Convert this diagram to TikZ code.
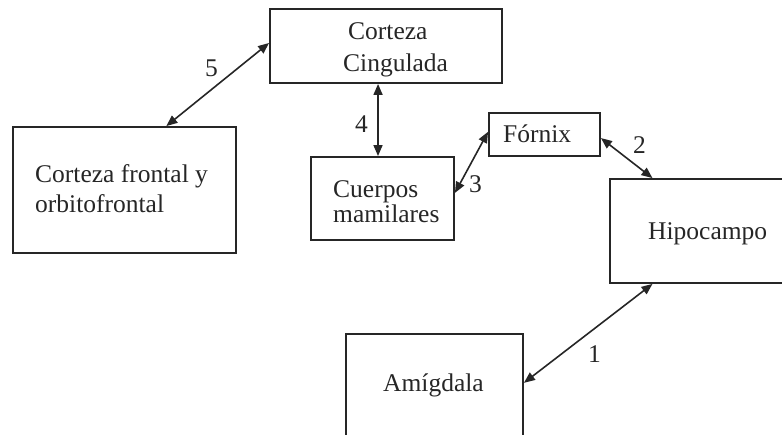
\documentclass[tikz,border=0pt]{standalone}
\usepackage{fontspec}
\setmainfont{Liberation Serif}
\usetikzlibrary{arrows.meta,calc}
\begin{document}
\begin{tikzpicture}[x=1pt,y=-1pt,
  box/.style={draw=black!85, line width=1.9pt, inner sep=0pt},
  txt/.style={anchor=base west, inner sep=0pt, text=black!85, font=\fontsize{25.5}{30}\selectfont},
  conn/.style={{Triangle[length=11pt,width=9pt]}-{Triangle[length=11pt,width=9pt]}, line width=1.6pt, draw=black!85}]
\useasboundingbox (0,0) rectangle (782,434);
\clip (0,0) rectangle (782,434);
% boxes
\node[box, minimum width=232pt, minimum height=74pt]  (cing)  at (386,46) {};
\node[box, minimum width=223pt, minimum height=126pt] (front) at (124.5,190) {};
\node[box, minimum width=143pt, minimum height=83pt]  (cuer)  at (382.5,198.5) {};
\node[box, minimum width=111pt, minimum height=43pt]  (forn)  at (544.5,134.5) {};
\node[box, minimum width=200pt, minimum height=104pt] (hipo)  at (710,231) {};
\node[box, minimum width=177pt, minimum height=111pt] (amig)  at (434.5,389.5) {};
% texts
\node[txt] (t1) at (348,39) {Corteza};
\node[txt] (t2) at (343,71) {Cingulada};
\node[txt] (t3) at (35,182) {Corteza frontal y};
\node[txt] (t4) at (35,212) {orbitofrontal};
\node[txt] (t5) at (333,197) {Cuerpos};
\node[txt] (t6) at (333,222) {mamilares};
\node[txt] (t7) at (503,142) {Fórnix};
\node[txt] (t8) at (648,239) {Hipocampo};
\node[txt] (t9) at (383,391) {Amígdala};
% connectors
\draw[conn] ($(front.north west)!0.686!(front.north east)$) -- ($(cing.north west)!0.46!(cing.south west)$);
\draw[conn] ($(cing.south west)!0.466!(cing.south east)$) -- ($(cuer.north west)!0.469!(cuer.north east)$);
\draw[conn] ($(cuer.north east)!0.434!(cuer.south east)$) -- ($(forn.north west)!0.44!(forn.south west)$);
\draw[conn] ($(forn.north east)!0.58!(forn.south east)$) -- ($(hipo.north west)!0.215!(hipo.north east)$);
\draw[conn] ($(amig.north east)!0.441!(amig.south east)$) -- ($(hipo.south west)!0.215!(hipo.south east)$);
% connector labels
\node[txt] (l5) at (205,76) {5};
\node[txt] (l4) at (355,132) {4};
\node[txt] (l3) at (469,192) {3};
\node[txt] (l2) at (633,153) {2};
\node[txt] (l1) at (588,362) {1};
\end{tikzpicture}
\end{document}
